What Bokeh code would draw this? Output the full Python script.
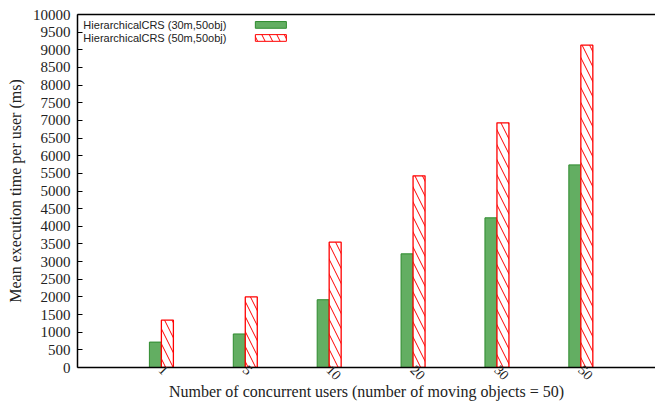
import math
from bokeh.plotting import figure
from bokeh.models import Range1d, FixedTicker, LinearAxis, BoxAnnotation, Label, ColumnDataSource
from bokeh.embed import file_html
from bokeh.resources import INLINE

categories = ["1", "5", "10", "20", "30", "50"]
series_30m = [720, 950, 1920, 3220, 4240, 5740]
series_50m = [1340, 2000, 3550, 5430, 6930, 9130]
series_names = ["HierarchicalCRS (30m,50obj)", "HierarchicalCRS (50m,50obj)"]
y_ticks = list(range(0, 10001, 500))

pos = [i + 1 for i in range(len(categories))]
bw = 0.143
src = ColumnDataSource(dict(
    x1=[p_ - bw / 2 for p_ in pos],
    x2=[p_ + bw / 2 for p_ in pos],
    a=series_30m, b=series_50m))

SERIF = "Liberation Serif"

p = figure(width=655, height=406, output_backend="svg", toolbar_location=None,
           x_range=Range1d(0, 6.89), y_range=Range1d(0, 10000),
           min_border_left=77, min_border_right=0, min_border_top=14, min_border_bottom=39)
p.grid.visible = False
p.outline_line_color = None
p.background_fill_color = "white"

p.vbar(x="x1", width=bw, top="a", bottom=0, source=src,
       fill_color="#63ae62", line_color="#2e8b2e", line_width=1)
p.vbar(x="x2", width=bw, top="b", bottom=0, source=src,
       fill_color="white", line_color="#ff0000", line_width=1.3,
       hatch_pattern="left_diagonal_line", hatch_color="#ff0000", hatch_scale=15, hatch_weight=1)

# axes
p.xaxis.ticker = FixedTicker(ticks=pos)
p.xaxis.major_label_overrides = {p_: c for p_, c in zip(pos, categories)}
p.xaxis.major_label_orientation = -math.pi / 4
p.xaxis.major_tick_in = 0
p.xaxis.major_tick_out = 0
p.xaxis.minor_tick_line_color = None
p.xaxis.major_label_standoff = 0
p.xaxis.axis_label = "Number of concurrent users (number of moving objects = 50)"
p.xaxis.axis_label_standoff = -4
p.xaxis.axis_label_text_font = SERIF
p.xaxis.axis_label_text_font_style = "normal"
p.xaxis.axis_label_text_font_size = "16px"
p.xaxis.axis_label_text_color = "#222222"
p.xaxis.major_label_text_font = SERIF
p.xaxis.major_label_text_font_size = "14px"
p.xaxis.major_label_text_color = "#222222"
p.xaxis.axis_line_width = 1.5

p.yaxis.ticker = FixedTicker(ticks=y_ticks)
p.yaxis.major_tick_in = 5
p.yaxis.major_tick_out = 0
p.yaxis.minor_tick_line_color = None
p.yaxis.major_label_standoff = 7
p.yaxis.axis_label = "Mean execution time per user (ms)"
p.yaxis.axis_label_standoff = 6
p.yaxis.axis_label_text_font = SERIF
p.yaxis.axis_label_text_font_style = "normal"
p.yaxis.axis_label_text_font_size = "16px"
p.yaxis.axis_label_text_color = "#222222"
p.yaxis.major_label_text_font = SERIF
p.yaxis.major_label_text_font_size = "15px"
p.yaxis.major_label_text_color = "#222222"
p.yaxis.axis_line_width = 1.5

top = LinearAxis(ticker=FixedTicker(ticks=[]), major_label_text_font_size="0px",
                 axis_line_width=1.5, major_tick_line_color=None, minor_tick_line_color=None)
p.add_layout(top, "above")

# legend (glyph right of text)
p.add_layout(Label(x=0.07, y=9710, text=series_names[0], text_font="Liberation Sans",
                   text_font_size="11px", text_baseline="middle", text_color="#222222"))
p.add_layout(Label(x=0.07, y=9340, text=series_names[1], text_font="Liberation Sans",
                   text_font_size="11px", text_baseline="middle", text_color="#222222"))
p.add_layout(BoxAnnotation(left=2.12, right=2.49, bottom=9610, top=9800,
                           fill_color="#63ae62", fill_alpha=1, line_color="#2e8b2e", line_alpha=1))
p.add_layout(BoxAnnotation(left=2.12, right=2.49, bottom=9240, top=9430,
                           fill_color="white", fill_alpha=1, line_color="#ff0000", line_alpha=1,
                           hatch_pattern="left_diagonal_line", hatch_color="#ff0000", hatch_scale=15))

open("out.html", "w").write(file_html(p, INLINE))
